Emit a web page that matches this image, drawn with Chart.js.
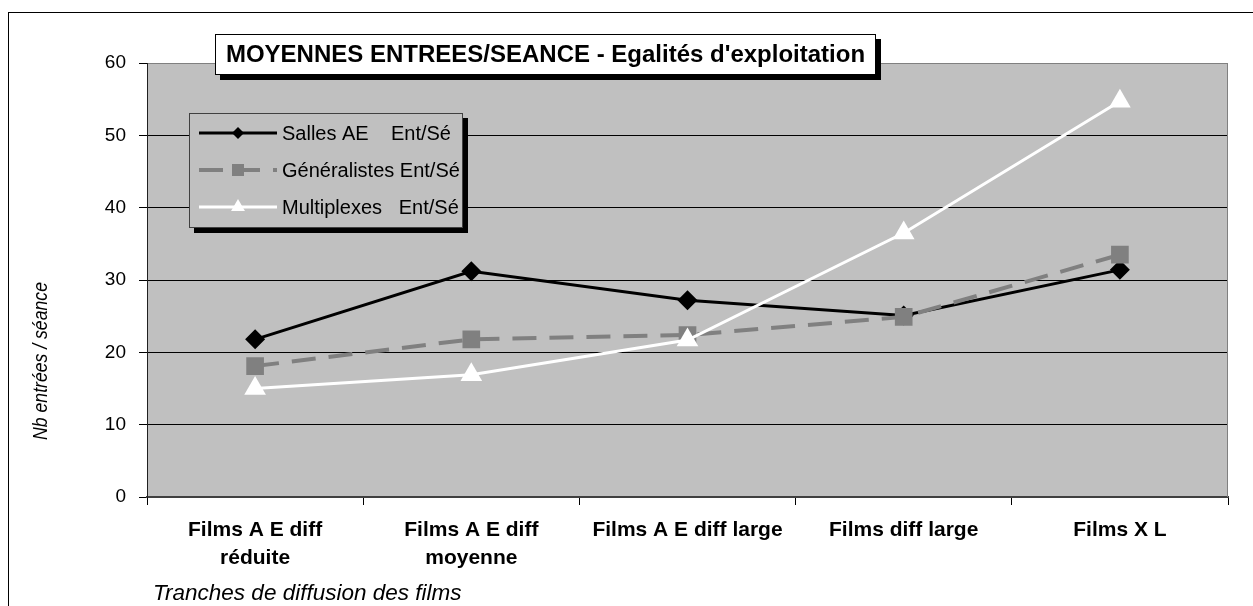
<!DOCTYPE html>
<html><head><meta charset="utf-8">
<script src="https://cdn.jsdelivr.net/npm/chart.js@4/dist/chart.umd.min.js"></script>
<style>html,body{margin:0;padding:0;background:#fff;overflow:hidden}#wrap{width:1253px;height:606px;position:relative}</style>
</head><body><div id="wrap"><canvas id="c" width="1253" height="606"></canvas></div>
<script>
const categories = [['Films A E diff','réduite'],['Films A E diff','moyenne'],'Films A E diff large','Films diff large','Films X L'];
const sallesAE = [21.8, 31.2, 27.2, 25.1, 31.4];
const generalistes = [18.1, 21.8, 22.4, 24.9, 33.5];
const multiplexes = [15.0, 16.9, 21.7, 36.5, 54.7];
const yTickValues = [0, 10, 20, 30, 40, 50, 60];
const seriesNames = ['Salles AE    Ent/Sé', 'Généralistes Ent/Sé', 'Multiplexes   Ent/Sé'];
const chartTitle = "MOYENNES ENTREES/SEANCE - Egalités d'exploitation";
const xTitle = 'Tranches de diffusion des films';
const yTitle = 'Nb entrées / séance';

const FONT = "'Liberation Sans', Arial, sans-serif";
const PLOT_BG = '#C0C0C0';
const GRAY = '#808080';
const DASH = [24, 13];

const decorPlugin = {
  id: 'decor',
  beforeDraw(chart) {
    const ctx = chart.ctx, a = chart.chartArea;
    ctx.save();
    ctx.fillStyle = '#fff';
    ctx.fillRect(0, 0, chart.width, chart.height);
    ctx.strokeStyle = '#000';
    ctx.lineWidth = 1;
    ctx.strokeRect(8.5, 12.5, chart.width + 20, chart.height + 20);
    ctx.fillStyle = PLOT_BG;
    ctx.fillRect(a.left, a.top, a.right - a.left, a.bottom - a.top);
    ctx.restore();
  },
  beforeDatasetsDraw(chart) {
    const ctx = chart.ctx, a = chart.chartArea;
    ctx.save();
    ctx.strokeStyle = GRAY;
    ctx.lineWidth = 1;
    ctx.beginPath();
    ctx.moveTo(a.right - 0.5, a.top);
    ctx.lineTo(a.right - 0.5, a.bottom);
    ctx.stroke();
    ctx.restore();
  },
  afterDraw(chart) {
    const ctx = chart.ctx;
    ctx.save();
    // Legend box
    const lx = 189, ly = 113, lw = 274, lh = 115;
    ctx.fillStyle = '#000';
    ctx.fillRect(lx + 5, ly + 5, lw, lh);
    ctx.fillStyle = PLOT_BG;
    ctx.fillRect(lx, ly, lw, lh);
    ctx.strokeStyle = '#404040';
    ctx.lineWidth = 1;
    ctx.strokeRect(lx + 0.5, ly + 0.5, lw - 1, lh - 1);
    const rows = [133, 170, 207];
    const ds = chart.data.datasets;
    ds.forEach((d, i) => {
      const y = rows[i];
      ctx.save();
      ctx.strokeStyle = d.borderColor;
      ctx.lineWidth = d.borderWidth;
      ctx.setLineDash(d.borderDash || []);
      ctx.beginPath();
      ctx.moveTo(199, y);
      ctx.lineTo(277, y);
      ctx.stroke();
      ctx.setLineDash([]);
      ctx.fillStyle = d.pointBackgroundColor;
      const mx = 238;
      ctx.beginPath();
      if (d.pointStyle === 'rectRot') {
        const r = 6;
        ctx.moveTo(mx - r, y); ctx.lineTo(mx, y - r); ctx.lineTo(mx + r, y); ctx.lineTo(mx, y + r);
      } else if (d.pointStyle === 'rect') {
        const s = 6;
        ctx.rect(mx - s, y - s, 2 * s, 2 * s);
      } else {
        const r = 8;
        ctx.moveTo(mx, y - r);
        ctx.lineTo(mx + r * 0.866, y + r / 2);
        ctx.lineTo(mx - r * 0.866, y + r / 2);
      }
      ctx.closePath();
      ctx.fill();
      ctx.restore();
      ctx.fillStyle = '#000';
      ctx.font = '20px ' + FONT;
      ctx.textAlign = 'left';
      ctx.textBaseline = 'middle';
      ctx.fillText(d.label, 282, y + 1);
    });
    // Title box
    const tx = 215, ty = 34, tw = 661, th = 41;
    ctx.fillStyle = '#000';
    ctx.fillRect(tx + 5, ty + 5, tw, th);
    ctx.fillStyle = '#fff';
    ctx.fillRect(tx, ty, tw, th);
    ctx.strokeStyle = '#000';
    ctx.strokeRect(tx + 0.5, ty + 0.5, tw - 1, th - 1);
    ctx.fillStyle = '#000';
    ctx.font = 'bold 24px ' + FONT;
    ctx.textAlign = 'center';
    ctx.textBaseline = 'middle';
    ctx.fillText(chartTitle, tx + tw / 2, ty + th / 2 + 1);
    // Axis titles
    ctx.font = 'italic 22.5px ' + FONT;
    ctx.textAlign = 'left';
    ctx.textBaseline = 'alphabetic';
    ctx.fillText(xTitle, 153, 600);
    ctx.save();
    ctx.font = 'italic 21px ' + FONT;
    ctx.translate(47, 361);
    ctx.rotate(-Math.PI / 2);
    ctx.scale(0.84, 1);
    ctx.textAlign = 'center';
    ctx.fillText(yTitle, 0, 0);
    ctx.restore();
    ctx.restore();
  }
};

new Chart(document.getElementById('c'), {
  type: 'line',
  data: {
    labels: categories,
    datasets: [
      {
        label: seriesNames[0], data: sallesAE, order: 3,
        borderColor: '#000', borderWidth: 3, pointStyle: 'rectRot', pointRadius: 10,
        pointBackgroundColor: '#000', pointBorderColor: '#000', pointBorderWidth: 0, tension: 0
      },
      {
        label: seriesNames[1], data: generalistes, order: 2,
        borderColor: GRAY, borderWidth: 4, borderDash: DASH, pointStyle: 'rect', pointRadius: 12.5,
        pointBackgroundColor: GRAY, pointBorderColor: GRAY, pointBorderWidth: 0, tension: 0
      },
      {
        label: seriesNames[2], data: multiplexes, order: 1,
        borderColor: '#fff', borderWidth: 3, pointStyle: 'triangle', pointRadius: 12.5,
        pointBackgroundColor: '#fff', pointBorderColor: '#fff', pointBorderWidth: 0, tension: 0
      }
    ]
  },
  options: {
    responsive: false,
    animation: false,
    devicePixelRatio: 1,
    layout: { padding: { left: 0, top: 63, right: 25, bottom: 0 } },
    plugins: { legend: { display: false }, title: { display: false }, tooltip: { enabled: false } },
    scales: {
      x: {
        offset: true,
        afterFit: s => { s.height = 109; },
        grid: { offset: true, drawOnChartArea: false, drawTicks: true, tickLength: 8, color: '#000' },
        border: { display: true, color: '#404040', width: 2 },
        ticks: { color: '#000', padding: 11, maxRotation: 0, autoSkip: false,
                 font: { family: FONT, size: 21, weight: 'bold', lineHeight: 1.333 } }
      },
      y: {
        min: 0, max: 60,
        afterFit: s => { s.width = 147; },
        afterBuildTicks: s => { s.ticks = yTickValues.map(v => ({ value: v })); },
        grid: {
          color: c => (c.tick && c.tick.value === 60) ? GRAY : '#000',
          lineWidth: 1, tickLength: 8, drawTicks: true, tickColor: '#000'
        },
        border: { display: true, color: '#202020', width: 1 },
        ticks: { color: '#000', padding: 13, font: { family: FONT, size: 19 } }
      }
    }
  },
  plugins: [decorPlugin]
});
</script>
</body></html>
